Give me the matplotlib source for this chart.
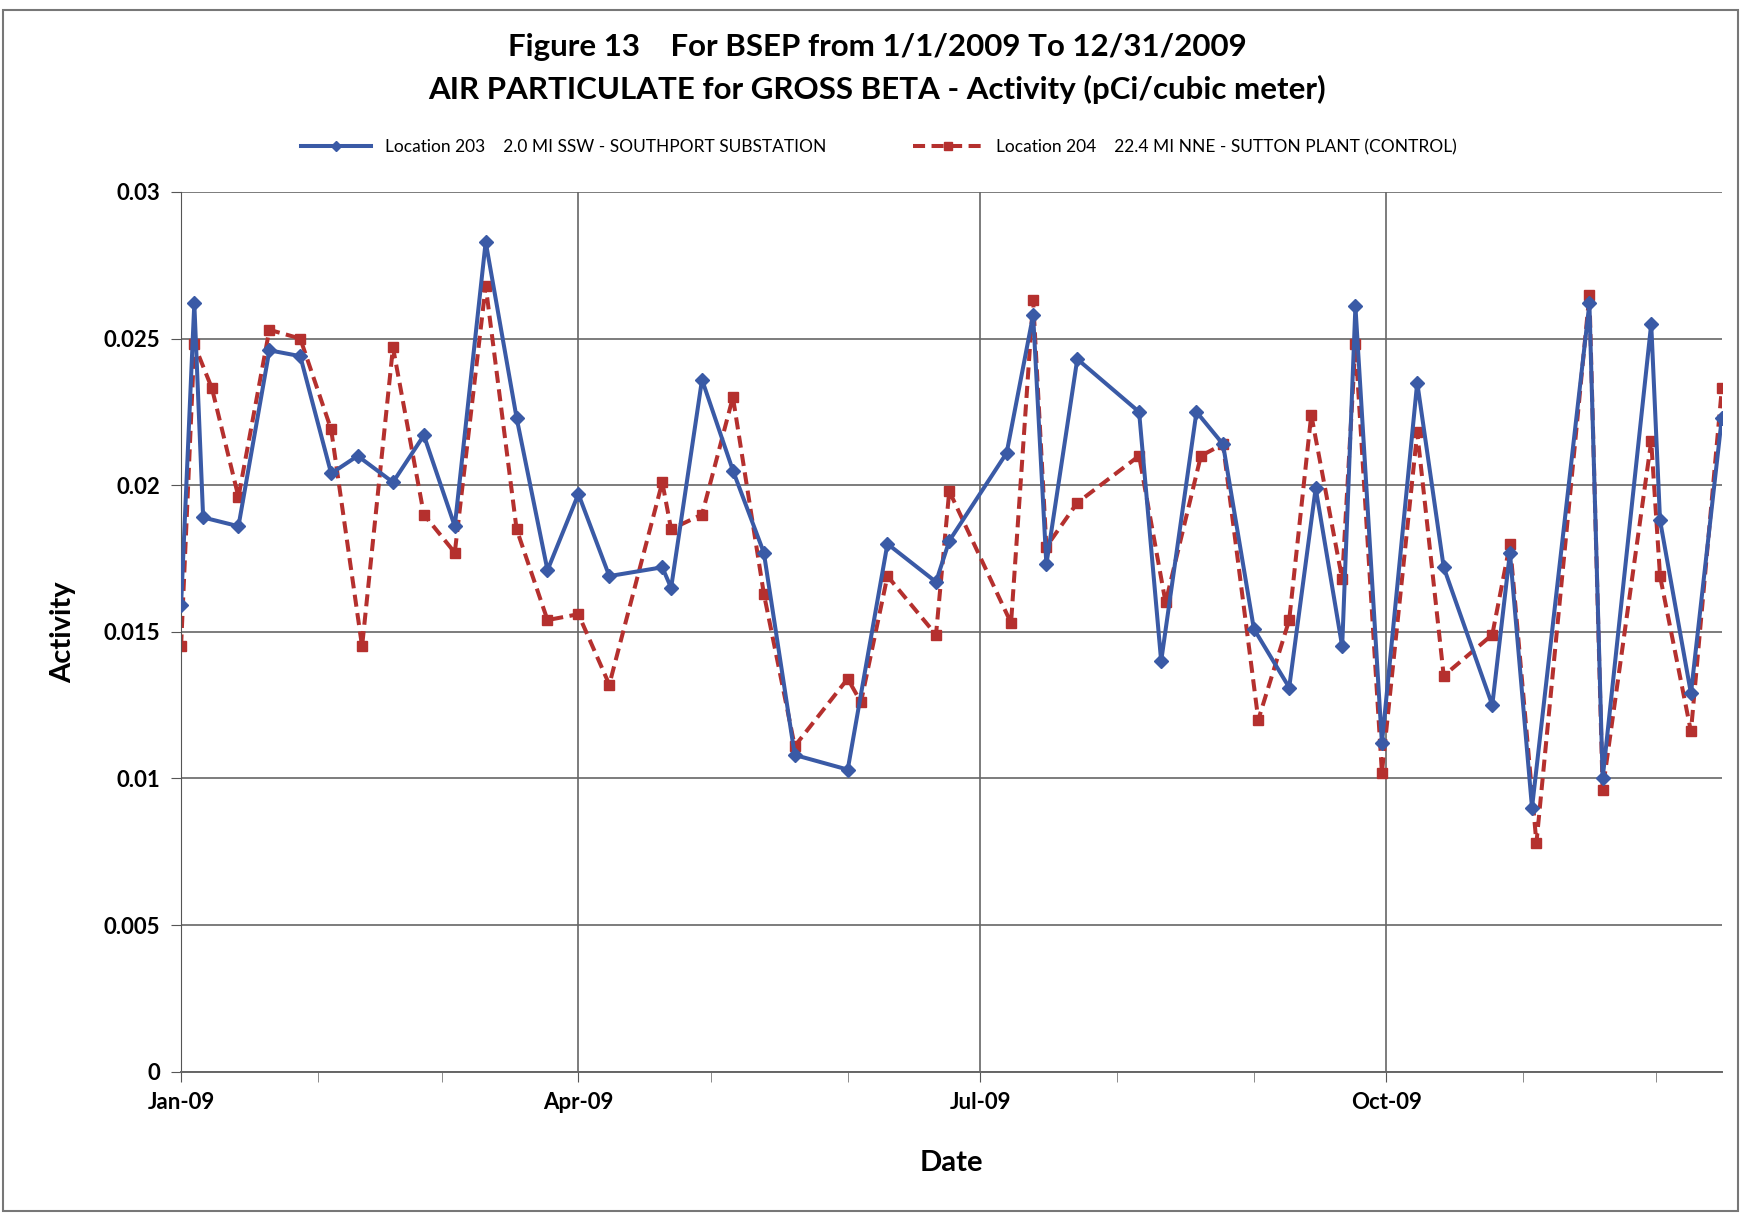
import numpy as np
import matplotlib
matplotlib.use('Agg')
import matplotlib.pyplot as plt
import matplotlib.dates as mdates
from matplotlib.patches import Rectangle

plt.rcParams['font.family'] = ['Lato', 'DejaVu Sans']

# sample days counted from 1/1/2009, and activity values (pCi/cubic meter)
days_203 = [0, 3, 5, 13, 20, 27, 34, 40, 48, 55, 62, 69, 76, 83, 90, 97, 109, 111,
            118, 125, 132, 139, 151, 160, 171, 174, 187, 193, 196, 203, 217, 222,
            230, 236, 243, 251, 257, 263, 266, 272, 280, 286, 297, 301, 306, 319,
            322, 333, 335, 342, 349]
loc_203 = [0.0159, 0.0262, 0.0189, 0.0186, 0.0246, 0.0244, 0.0204, 0.0210, 0.0201,
           0.0217, 0.0186, 0.0283, 0.0223, 0.0171, 0.0197, 0.0169, 0.0172, 0.0165,
           0.0236, 0.0205, 0.0177, 0.0108, 0.0103, 0.0180, 0.0167, 0.0181, 0.0211,
           0.0258, 0.0173, 0.0243, 0.0225, 0.0140, 0.0225, 0.0214, 0.0151, 0.0131,
           0.0199, 0.0145, 0.0261, 0.0112, 0.0235, 0.0172, 0.0125, 0.0177, 0.0090,
           0.0262, 0.0100, 0.0255, 0.0188, 0.0129, 0.0223]

days_204 = [0, 3, 7, 13, 20, 27, 34, 41, 48, 55, 62, 69, 76, 83, 90, 97, 109, 111,
            118, 125, 132, 139, 151, 154, 160, 171, 174, 188, 193, 196, 203, 217,
            223, 231, 236, 244, 251, 256, 263, 266, 272, 280, 286, 297, 301, 307,
            319, 322, 333, 335, 342, 349]
loc_204 = [0.0145, 0.0248, 0.0233, 0.0196, 0.0253, 0.0250, 0.0219, 0.0145, 0.0247,
           0.0190, 0.0177, 0.0268, 0.0185, 0.0154, 0.0156, 0.0132, 0.0201, 0.0185,
           0.0190, 0.0230, 0.0163, 0.0111, 0.0134, 0.0126, 0.0169, 0.0149, 0.0198,
           0.0153, 0.0263, 0.0179, 0.0194, 0.0210, 0.0160, 0.0210, 0.0214, 0.0120,
           0.0154, 0.0224, 0.0168, 0.0248, 0.0102, 0.0218, 0.0135, 0.0149, 0.0180,
           0.0078, 0.0265, 0.0096, 0.0215, 0.0169, 0.0116, 0.0233]

label_203 = 'Location 203    2.0 MI SSW - SOUTHPORT SUBSTATION'
label_204 = 'Location 204    22.4 MI NNE - SUTTON PLANT (CONTROL)'

start = np.datetime64('2009-01-01')
dates_203 = start + np.array(days_203, dtype='timedelta64[D]')
dates_204 = start + np.array(days_204, dtype='timedelta64[D]')

fig = plt.figure(figsize=(17.41, 12.15), dpi=100)
ax = fig.add_axes([0.104, 0.118, 0.885, 0.724])

ax.plot(dates_203, loc_203, color='#3a5aa6', linewidth=2.9, marker='D',
        markersize=7, label=label_203, zorder=3)
ax.plot(dates_204, loc_204, color='#b5302e', linewidth=2.9, linestyle=(0, (3, 1.6)),
        marker='s', markersize=7.5, label=label_204, zorder=2)

ax.set_ylim(0, 0.03)
ax.set_yticks([0, 0.005, 0.01, 0.015, 0.02, 0.025, 0.03])
ax.set_yticklabels(['0', '0.005', '0.01', '0.015', '0.02', '0.025', '0.03'])
ax.set_xlim(start, start + np.timedelta64(349, 'D'))

ax.xaxis.set_major_locator(mdates.MonthLocator(bymonth=[1, 4, 7, 10]))
ax.xaxis.set_minor_locator(mdates.MonthLocator())
ax.xaxis.set_major_formatter(mdates.DateFormatter('%b-%y'))

ax.grid(True, which='major', color='#666666', linewidth=1.2)
ax.set_axisbelow(True)
for s in ['top', 'right']:
    ax.spines[s].set_visible(False)
ax.spines['left'].set_color('#555555')
ax.spines['bottom'].set_color('#666666')
ax.spines['bottom'].set_linewidth(1.4)

ax.tick_params(axis='both', which='major', length=7, color='#555555',
               labelsize=16, pad=8)
ax.tick_params(axis='x', which='minor', length=7, color='#777777')
for lbl in ax.get_xticklabels() + ax.get_yticklabels():
    lbl.set_fontweight('bold')

ax.set_xlabel('Date', fontsize=21, fontweight='bold', labelpad=26)
ax.set_ylabel('Activity', fontsize=21, fontweight='bold', labelpad=20)

fig.text(0.504, 0.961, 'Figure 13    For BSEP from 1/1/2009 To 12/31/2009',
         ha='center', va='center', fontsize=22.5, fontweight='bold')
fig.text(0.504, 0.926, 'AIR PARTICULATE for GROSS BETA - Activity (pCi/cubic meter)',
         ha='center', va='center', fontsize=22.5, fontweight='bold')

fig.legend(loc='center', bbox_to_anchor=(0.505, 0.879), ncol=2, frameon=False,
           fontsize=12.5, handlelength=4, columnspacing=5, markerscale=0.75)

fig.patches.append(Rectangle((0.002, 0.003), 0.996, 0.989, transform=fig.transFigure,
                             fill=False, edgecolor='#777777', linewidth=1.5))

fig.savefig('out.png', dpi=100)
